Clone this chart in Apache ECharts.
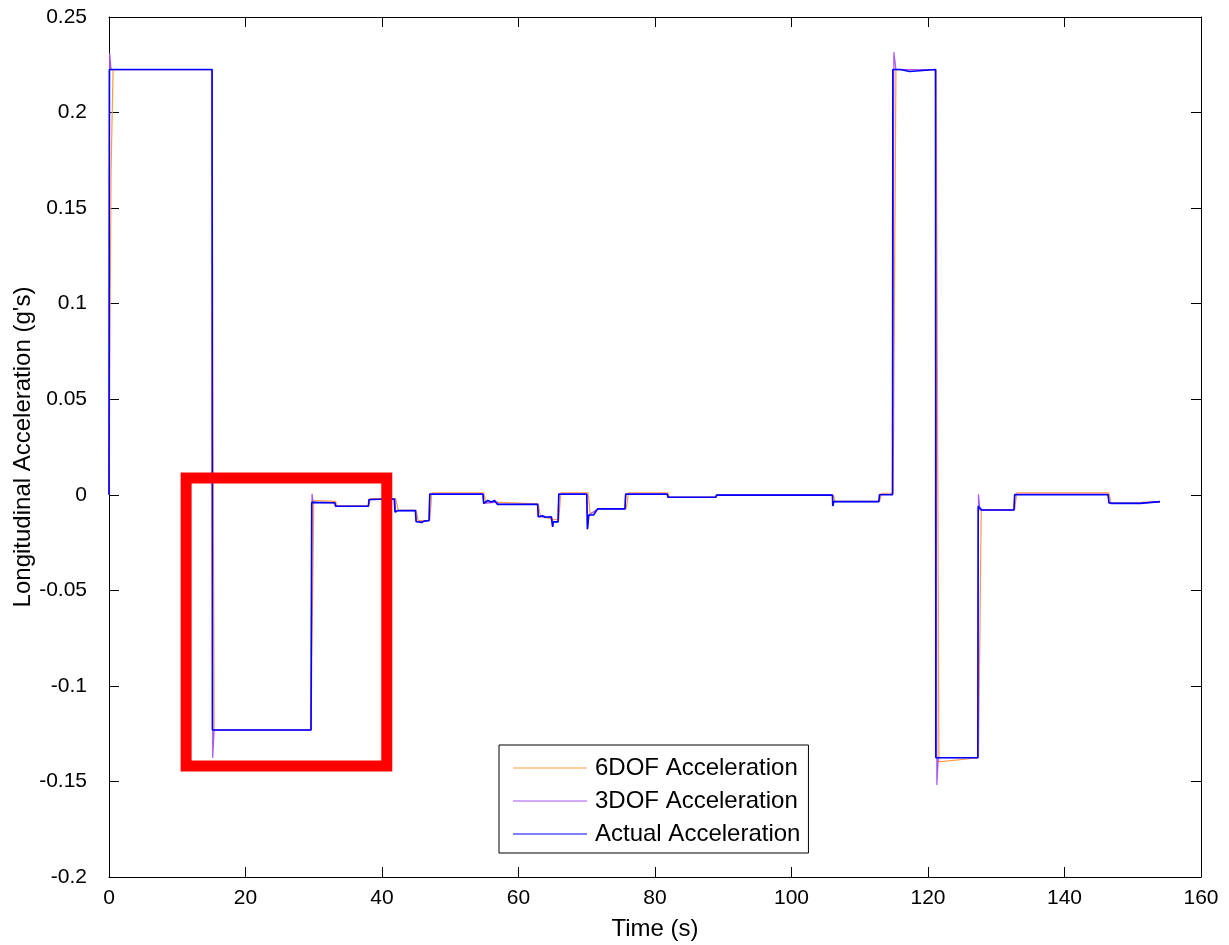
<!DOCTYPE html>
<html>
<head>
<meta charset="utf-8">
<style>
  html, body { margin: 0; padding: 0; background: #fff; }
  #chart { width: 1229px; height: 945px; }
</style>
<script src="https://cdn.jsdelivr.net/npm/echarts@6/dist/echarts.min.js"></script>
</head>
<body>
<div id="chart"></div>
<script>
// Longitudinal acceleration traces: [time (s), acceleration (g's)]
const sixDofAccel = [
  [0, 0], [0.3, 0.17], [0.6, 0.2225], [15.1, 0.2225], [15.4, -0.1231], [29.6, -0.1231],
  [30.0, -0.003], [33.2, -0.0035], [33.4, -0.0058], [38.1, -0.0058], [38.3, -0.002],
  [42.0, -0.002], [42.4, -0.0082], [45.0, -0.0082], [45.3, -0.0135], [47.0, -0.0135],
  [47.3, 0.0010], [54.9, 0.0010], [55.2, -0.004], [57.0, -0.004], [57.2, -0.0048],
  [62.9, -0.0048], [63.2, -0.011], [65.1, -0.013], [65.9, -0.013], [66.2, 0.0010],
  [70.2, 0.0010], [70.5, -0.010], [71.8, -0.0072], [75.8, -0.0072], [76.1, 0.0010],
  [81.9, 0.0010], [82.1, -0.0012], [89.0, -0.0012], [89.2, -0.0001], [106.1, -0.0001],
  [106.4, -0.0034], [112.9, -0.0034], [113.2, 0.0008], [114.9, 0.0008], [115.3, 0.2225],
  [121.2, 0.2225], [121.6, -0.1398], [127.4, -0.1376], [127.8, -0.0078], [132.7, -0.0078],
  [133.0, 0.0010], [146.5, 0.0010], [146.8, -0.0042], [151.2, -0.0042], [151.5, -0.0038],
  [154.0, -0.0038]
];

const threeDofAccel = [
  [0, 0], [0.1, 0.231], [0.3, 0.2225], [15.1, 0.2225], [15.2, -0.1377], [15.4, -0.1231],
  [29.6, -0.1231], [29.75, 0.0005], [29.9, -0.004], [33.1, -0.0042], [33.2, -0.0060],
  [38.0, -0.0060], [38.1, -0.0025], [41.9, -0.0022], [42.0, -0.0092], [42.3, -0.0083],
  [44.9, -0.0083], [45.0, -0.0142], [46.9, -0.0136], [47.0, 0.0006], [54.8, 0.0006],
  [54.9, -0.0045], [56.9, -0.0038], [57.0, -0.0050], [62.8, -0.0050], [62.9, -0.0116],
  [64.9, -0.0118], [65.0, -0.0168], [65.1, -0.0142], [65.8, -0.0142], [65.9, 0.0006], [70.0, 0.0006],
  [70.1, -0.0180], [70.3, -0.0106], [71.6, -0.0074], [75.6, -0.0074], [75.7, 0.0006],
  [81.8, 0.0006], [81.9, -0.0013], [88.9, -0.0013], [89.0, -0.0002], [106.0, -0.0002],
  [106.05, -0.0059], [106.2, -0.0036], [112.8, -0.0036], [112.9, 0.0002], [114.8, 0.0002],
  [115.0, 0.2316], [115.3, 0.2225], [121.1, 0.2225], [121.3, -0.1519], [121.5, -0.1376],
  [127.3, -0.1376], [127.4, 0.0003], [127.6, -0.0080], [132.6, -0.0080], [132.7, 0.0003],
  [146.4, 0.0003], [146.5, -0.0044], [151.1, -0.0044], [151.3, -0.0036], [154.0, -0.0036]
];

const actualAccel = [
  [0, 0], [0.05, 0.2225], [15.1, 0.2225], [15.15, -0.1231], [29.6, -0.1231], [29.7, -0.0040],
  [33.1, -0.0042], [33.2, -0.0060], [38.0, -0.0060], [38.1, -0.0025], [41.8, -0.0022],
  [41.9, -0.0090], [42.3, -0.0083], [44.9, -0.0083], [45.0, -0.0140], [45.8, -0.0145],
  [46.2, -0.0138], [46.9, -0.0135], [47.0, 0.0003], [54.8, 0.0003], [54.9, -0.0045],
  [55.5, -0.0030], [56.0, -0.0038], [56.5, -0.0030], [56.9, -0.0050], [62.8, -0.0050],
  [62.9, -0.0115], [63.5, -0.0110], [64.0, -0.0118], [64.8, -0.0115], [65.0, -0.0168],
  [65.1, -0.0142], [65.8, -0.0142], [65.9, 0.0003], [70.0, 0.0003], [70.1, -0.0180],
  [70.3, -0.0106], [71.0, -0.0106], [71.6, -0.0074], [75.6, -0.0074], [75.7, 0.0003],
  [81.8, 0.0003], [81.9, -0.0013], [88.9, -0.0013], [89.0, -0.0002], [106.0, -0.0002],
  [106.05, -0.0059], [106.2, -0.0036], [112.8, -0.0036], [112.9, 0.0000], [114.8, 0.0000],
  [114.85, 0.2225], [116.0, 0.2225], [116.2, 0.2215], [117.3, 0.2215], [117.5, 0.2225],
  [121.1, 0.2225], [121.15, -0.1376], [127.3, -0.1376], [127.35, -0.0060], [127.9, -0.0080],
  [132.6, -0.0080], [132.7, 0.0000], [146.4, 0.0000], [146.5, -0.0040], [146.8, -0.0045],
  [151.1, -0.0045], [151.3, -0.0036], [154.0, -0.0036]
];

// Highlight rectangle around the braking phase (time, acceleration corners)
const highlightBox = [
  [11.3, 0.0088], [40.7, 0.0088], [40.7, -0.1419], [11.3, -0.1419], [11.3, 0.0088]
];

const seriesNames = ['6DOF Acceleration', '3DOF Acceleration', 'Actual Acceleration'];

const FONT = '"Liberation Sans", Arial, sans-serif';
const chart = echarts.init(document.getElementById('chart'), null, { renderer: 'canvas' });

const tickStyle = { show: true, inside: true, length: 10, lineStyle: { color: '#000', width: 1 } };

chart.setOption({
  animation: false,
  backgroundColor: '#fff',
  grid: { left: 109, right: 28, top: 17, bottom: 68, containLabel: false, outerBoundsMode: 'none' },
  legend: {
    data: seriesNames,
    orient: 'vertical',
    left: 499,
    top: 745,
    padding: [11, 8, 7, 14],
    itemGap: 9,
    itemWidth: 74,
    itemHeight: 24,
    backgroundColor: '#fff',
    borderColor: '#000',
    borderWidth: 1,
    borderRadius: 0,
    icon: 'path://M0,9.5 L74,9.5 L74,10.5 L0,10.5 Z',
    textStyle: { fontFamily: FONT, fontSize: 24, color: '#000', padding: [0, 0, 0, 3] }
  },
  xAxis: [
    {
      type: 'value', min: 0, max: 160, interval: 20, position: 'bottom',
      name: 'Time (s)', nameLocation: 'middle', nameGap: 40, nameMoveOverlap: false,
      nameTextStyle: { fontFamily: FONT, fontSize: 24, color: '#000' },
      axisLine: { show: true, onZero: false, lineStyle: { color: '#000', width: 1 } },
      axisTick: tickStyle,
      axisLabel: { fontFamily: FONT, fontSize: 21, color: '#000', margin: 11 },
      splitLine: { show: false }
    },
    {
      type: 'value', min: 0, max: 160, interval: 20, position: 'top',
      axisLine: { show: true, onZero: false, lineStyle: { color: '#000', width: 1 } },
      axisTick: tickStyle, axisLabel: { show: false }, splitLine: { show: false }
    }
  ],
  yAxis: [
    {
      type: 'value', min: -0.2, max: 0.25, interval: 0.05, position: 'left',
      name: "Longitudinal Acceleration (g's)", nameLocation: 'middle', nameGap: 74,
      nameRotate: 90, nameMoveOverlap: false,
      nameTextStyle: { fontFamily: FONT, fontSize: 24, color: '#000' },
      axisLine: { show: true, onZero: false, lineStyle: { color: '#000', width: 1 } },
      axisTick: tickStyle,
      axisLabel: {
        fontFamily: FONT, fontSize: 21, color: '#000', margin: 22,
        formatter: v => String(parseFloat(v.toFixed(2)))
      },
      splitLine: { show: false }
    },
    {
      type: 'value', min: -0.2, max: 0.25, interval: 0.05, position: 'right',
      axisLine: { show: true, onZero: false, lineStyle: { color: '#000', width: 1 } },
      axisTick: tickStyle, axisLabel: { show: false }, splitLine: { show: false }
    }
  ],
  series: [
    {
      name: seriesNames[0], type: 'line', data: sixDofAccel, showSymbol: false,
      lineStyle: { color: '#ff9a40', width: 1.2 }, itemStyle: { color: '#ff9a40' }, z: 2
    },
    {
      name: seriesNames[1], type: 'line', data: threeDofAccel, showSymbol: false,
      lineStyle: { color: '#a855f7', width: 1.2 }, itemStyle: { color: '#a855f7' }, z: 3
    },
    {
      name: seriesNames[2], type: 'line', data: actualAccel, showSymbol: false,
      lineStyle: { color: '#0000ff', width: 1.6 }, itemStyle: { color: '#0000ff' }, z: 4
    },
    {
      name: 'box', type: 'line', data: highlightBox, showSymbol: false, silent: true,
      lineStyle: { color: '#ff0000', width: 11, join: 'miter', cap: 'square' }, z: 5
    }
  ]
});
</script>
</body>
</html>
